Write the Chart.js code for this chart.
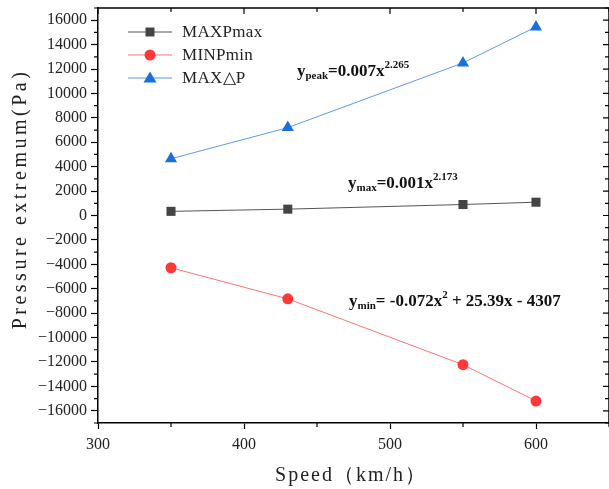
<!DOCTYPE html>
<html>
<head>
<meta charset="utf-8">
<script src="https://cdn.jsdelivr.net/npm/chart.js@4.4.1/dist/chart.umd.min.js"></script>
<style>
  html, body { margin: 0; padding: 0; background: #fff; overflow: hidden; }
  #wrap { width: 616px; height: 489px; }
</style>
</head>
<body>
<div id="wrap"><canvas id="canvas1" width="616" height="489"></canvas></div>
<script>
// values
var speeds = [350, 430, 550, 600];
var maxP = [340, 520, 900, 1090];
var minP = [-4280, -6830, -12220, -15200];
var deltaP = [4650, 7200, 12500, 15450];

var seriesNames = ["MAXPmax", "MINPmin", "MAX\u25B3P"];
var xTicks = [300, 400, 500, 600];
var yTicks = [-16000, -14000, -12000, -10000, -8000, -6000, -4000, -2000, 0, 2000, 4000, 6000, 8000, 10000, 12000, 14000, 16000];

var serif = '"Liberation Serif", "Times New Roman", serif';

function pts(xs, ys) {
  var out = [];
  for (var i = 0; i < xs.length; i++) out.push({x: xs[i], y: ys[i]});
  return out;
}

function drawMarker(ctx, style, color, x, y) {
  ctx.save();
  ctx.fillStyle = color;
  ctx.beginPath();
  if (style == "rect") {
    ctx.rect(x - 4.5, y - 4.5, 9, 9);
  } else if (style == "circle") {
    ctx.arc(x, y, 5.5, 0, Math.PI * 2);
  } else {
    ctx.moveTo(x, y - 6.5);
    ctx.lineTo(x + 6.5, y + 4.5);
    ctx.lineTo(x - 6.5, y + 4.5);
    ctx.closePath();
  }
  ctx.fill();
  ctx.restore();
}

// equation text with sub/superscripts
function drawEq(ctx, x, y, parts) {
  ctx.save();
  ctx.fillStyle = "#111";
  ctx.textBaseline = "alphabetic";
  parts.forEach(function (p) {
    var dy = 0;
    if (p[1] == "sub") { ctx.font = "bold 11px " + serif; dy = 3; }
    else if (p[1] == "sup") { ctx.font = "bold 11px " + serif; dy = -8; }
    else { ctx.font = "bold 17px " + serif; }
    ctx.fillText(p[0], x, y + dy);
    x += ctx.measureText(p[0]).width;
  });
  ctx.restore();
}

var decor = {
  id: "decor",
  afterDraw: function (chart) {
    var ctx = chart.ctx;
    var a = chart.chartArea;
    var xs = chart.scales.x, ys = chart.scales.y;
    ctx.save();
    ctx.strokeStyle = "#000";
    ctx.lineWidth = 1.5;
    // frame top and right
    ctx.beginPath();
    ctx.moveTo(a.left, a.top); ctx.lineTo(a.right, a.top);
    ctx.moveTo(a.right, a.top); ctx.lineTo(a.right, a.bottom);
    ctx.stroke();
    ctx.lineWidth = 1.2;
    ctx.beginPath();
    // minor ticks on x (50s), majors on top edge
    for (var v = 300; v <= 650; v += 50) {
      var px = xs.getPixelForValue(v);
      var major = v % 100 == 0;
      if (!major) { ctx.moveTo(px, a.bottom); ctx.lineTo(px, a.bottom + 4); }
      ctx.moveTo(px, a.top); ctx.lineTo(px, a.top + (major ? 6 : 4));
    }
    // minor ticks on y (odd thousands), right edge ticks
    for (var w = -17000; w <= 17000; w += 1000) {
      var py = ys.getPixelForValue(w);
      var maj = w % 2000 == 0;
      if (!maj) { ctx.moveTo(a.left, py); ctx.lineTo(a.left - 4, py); }
      ctx.moveTo(a.right, py); ctx.lineTo(a.right - (maj ? 6 : 4), py);
    }
    ctx.stroke();

    // axis titles
    ctx.fillStyle = "#222";
    ctx.font = "20px " + serif;
    ctx.letterSpacing = "2px";
    ctx.textAlign = "center";
    ctx.textBaseline = "middle";
    ctx.fillText("Speed\uFF08km/h\uFF09", 351, 476);
    ctx.letterSpacing = "3.5px";
    ctx.translate(21, 199);
    ctx.rotate(-Math.PI / 2);
    ctx.fillText("Pressure extremum(Pa)", 0, 0);
    ctx.restore();

    // legend
    ctx.save();
    chart.data.datasets.forEach(function (ds, i) {
      var ly = 32 + i * 23;
      ctx.strokeStyle = ds.borderColor;
      ctx.lineWidth = 1;
      ctx.beginPath();
      ctx.moveTo(128, ly); ctx.lineTo(172, ly);
      ctx.stroke();
      drawMarker(ctx, ds.pointStyle, ds.pointBackgroundColor, 150, ly);
      ctx.fillStyle = "#222";
      ctx.font = "17px " + serif;
      ctx.letterSpacing = "0.3px";
      ctx.textBaseline = "middle";
      ctx.fillText(ds.label, 182, ly + 1);
    });
    ctx.restore();

    // fitted equations
    drawEq(ctx, 297, 76, [["y", ""], ["peak", "sub"], ["=0.007x", ""], ["2.265", "sup"]]);
    drawEq(ctx, 348, 188, [["y", ""], ["max", "sub"], ["=0.001x", ""], ["2.173", "sup"]]);
    drawEq(ctx, 349, 306, [["y", ""], ["min", "sub"], ["= -0.072x", ""], ["2", "sup"], [" + 25.39x - 4307", ""]]);
  }
};

var chart = new Chart(document.getElementById("canvas1"), {
  type: "line",
  data: {
    datasets: [
      {
        label: seriesNames[0],
        data: pts(speeds, maxP),
        borderColor: "#555555",
        borderWidth: 1,
        pointStyle: "rect",
        pointRadius: 6.4,
        pointBackgroundColor: "#444444",
        pointBorderWidth: 0
      },
      {
        label: seriesNames[1],
        data: pts(speeds, minP),
        borderColor: "#ff7373",
        borderWidth: 1,
        pointStyle: "circle",
        pointRadius: 5.5,
        pointBackgroundColor: "#ff3838",
        pointBorderWidth: 0
      },
      {
        label: seriesNames[2],
        data: pts(speeds, deltaP),
        borderColor: "#5a9be8",
        borderWidth: 1,
        pointStyle: "triangle",
        pointRadius: 7,
        pointBackgroundColor: "#1a6ee0",
        pointBorderWidth: 0
      }
    ]
  },
  options: {
    responsive: false,
    animation: false,
    layout: { padding: { top: 8, right: 1, left: 0, bottom: 0 } },
    plugins: { legend: { display: false }, tooltip: { enabled: false } },
    scales: {
      x: {
        type: "linear",
        min: 300,
        max: 650,
        afterBuildTicks: function (s) { s.ticks = xTicks.map(function (v) { return {value: v}; }); },
        afterFit: function (s) { s.height = 66; s.paddingLeft = 0; s.paddingRight = 0; },
        grid: { drawOnChartArea: false, drawTicks: true, tickLength: 6, color: "#000", tickWidth: 1.2 },
        border: { display: true, color: "#000", width: 1.5 },
        ticks: {
          padding: 6,
          color: "#222",
          font: { family: serif, size: 16 },
          callback: function (v) { return String(v); }
        }
      },
      y: {
        type: "linear",
        min: -17000,
        max: 17000,
        afterBuildTicks: function (s) { s.ticks = yTicks.map(function (v) { return {value: v}; }); },
        afterFit: function (s) { s.width = 98; s.paddingTop = 0; s.paddingBottom = 0; },
        grid: { drawOnChartArea: false, drawTicks: true, tickLength: 7, color: "#000", tickWidth: 1.2 },
        border: { display: true, color: "#000", width: 1.5 },
        ticks: {
          padding: 4,
          color: "#222",
          font: { family: serif, size: 16 },
          callback: function (v) { return String(v).replace("-", "\u2212"); }
        }
      }
    }
  },
  plugins: [decor]
});
</script>
</body>
</html>
